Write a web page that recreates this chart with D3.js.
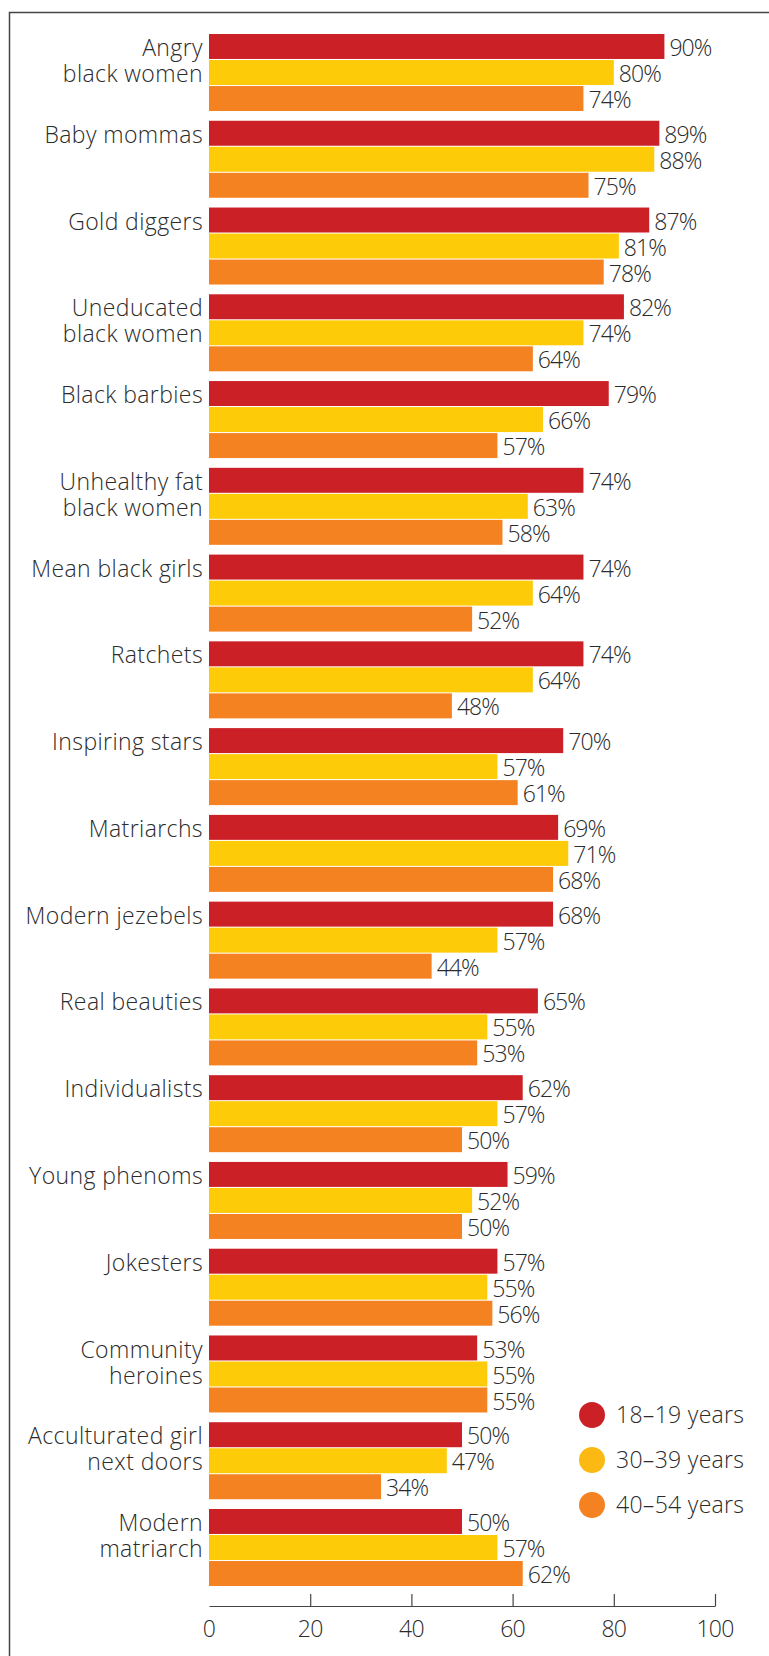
<!DOCTYPE html>
<html>
<head>
<meta charset="utf-8">
<script src="https://cdn.jsdelivr.net/npm/d3@7"></script>
<style>
  body { margin: 0; background: #fff; }
  text { font-family: "Open Sans", "Lato", sans-serif; font-weight: 300; fill: #2b2b2b; }
</style>
</head>
<body>
<div class="chart"></div>
<script>
var svgWidth = 769;
var svgHeight = 1656;

// Data
var categories = [
  "Angry\nblack women", "Baby mommas", "Gold diggers", "Uneducated\nblack women",
  "Black barbies", "Unhealthy fat\nblack women", "Mean black girls", "Ratchets",
  "Inspiring stars", "Matriarchs", "Modern jezebels", "Real beauties",
  "Individualists", "Young phenoms", "Jokesters", "Community\nheroines",
  "Acculturated girl\nnext doors", "Modern\nmatriarch"
];
var series = ["18–19 years", "30–39 years", "40–54 years"];
var age18 = [90, 89, 87, 82, 79, 74, 74, 74, 70, 69, 68, 65, 62, 59, 57, 53, 50, 50];
var age30 = [80, 88, 81, 74, 66, 63, 64, 64, 57, 71, 57, 55, 57, 52, 55, 55, 47, 57];
var age40 = [74, 75, 78, 64, 57, 58, 52, 48, 61, 68, 44, 53, 50, 50, 56, 55, 34, 62];
var xTicks = [20, 40, 60, 80, 100];
var tickLabels = [0, 20, 40, 60, 80, 100];

var barColors = ["#cc2027", "#fdcb08", "#f58220"];
var legendColors = ["#cc2027", "#fdb913", "#f58220"];

var rows = categories.map(function (c, i) {
  return { name: c, values: [age18[i], age30[i], age40[i]] };
});

var svg = d3.select(".chart")
  .append("svg")
  .attr("width", svgWidth)
  .attr("height", svgHeight);

// frame: top and left rules
svg.append("path")
  .attr("d", "M9.5,1656 V12.5 H769")
  .attr("fill", "none")
  .attr("stroke", "#444")
  .attr("stroke-width", 1.5);

var x = d3.scaleLinear()
  .domain([0, 100])
  .range([209, 715]);

var y = d3.scaleBand()
  .domain(d3.range(categories.length))
  .range([34, 1586])
  .paddingInner(0.1125);

var ySub = d3.scaleBand()
  .domain(d3.range(series.length))
  .range([0, y.bandwidth()])
  .paddingInner(0.04);

var groups = svg.selectAll(".group")
  .data(rows)
  .enter()
  .append("g")
  .attr("class", "group")
  .attr("transform", (d, i) => `translate(0, ${y(i)})`);

groups.selectAll("rect")
  .data(d => d.values)
  .enter()
  .append("rect")
  .attr("x", x(0))
  .attr("y", (d, i) => ySub(i))
  .attr("width", d => x(d) - x(0))
  .attr("height", ySub.bandwidth())
  .attr("fill", (d, i) => barColors[i]);

groups.selectAll(".val")
  .data(d => d.values)
  .enter()
  .append("text")
  .attr("class", "val")
  .attr("x", d => x(d) + 5)
  .attr("y", (d, i) => ySub(i) + ySub.bandwidth() / 2 + 1.5)
  .attr("dy", "0.35em")
  .attr("font-size", 23)
  .attr("letter-spacing", -0.9)
  .text(d => d + "%");

// category labels, one line per bar
groups.selectAll(".cat")
  .data(d => d.name.split("\n"))
  .enter()
  .append("text")
  .attr("class", "cat")
  .attr("x", x(0) - 6)
  .attr("y", (d, i) => ySub(i) + ySub.bandwidth() / 2 + 1.5)
  .attr("dy", "0.35em")
  .attr("text-anchor", "end")
  .attr("font-size", 23)
  .attr("letter-spacing", 0.4)
  .text(d => d);

// x axis
var axisY = 1606;
var bottomAxis = d3.axisBottom(x)
  .tickValues(xTicks)
  .tickSizeInner(-12)
  .tickSizeOuter(0)
  .tickFormat("");

var axisG = svg.append("g")
  .attr("transform", `translate(0, ${axisY})`)
  .call(bottomAxis);
axisG.select(".domain").attr("stroke", "#444").attr("stroke-width", 1.2);
axisG.selectAll(".tick line").attr("stroke", "#444").attr("stroke-width", 1.2);

svg.selectAll(".tickLabel")
  .data(tickLabels)
  .enter()
  .append("text")
  .attr("class", "tickLabel")
  .attr("x", d => x(d))
  .attr("y", 1629)
  .attr("dy", "0.35em")
  .attr("text-anchor", "middle")
  .attr("font-size", 23)
  .attr("letter-spacing", -0.8)
  .text(d => d);

// legend
var legend = svg.selectAll(".legend")
  .data(series)
  .enter()
  .append("g")
  .attr("class", "legend")
  .attr("transform", (d, i) => `translate(592, ${1415 + i * 45})`);

legend.append("circle")
  .attr("r", 13)
  .attr("fill", (d, i) => legendColors[i]);

legend.append("text")
  .attr("x", 24)
  .attr("dy", "0.35em")
  .attr("font-size", 23)
  .attr("letter-spacing", 0.3)
  .text(d => d);
</script>
</body>
</html>
